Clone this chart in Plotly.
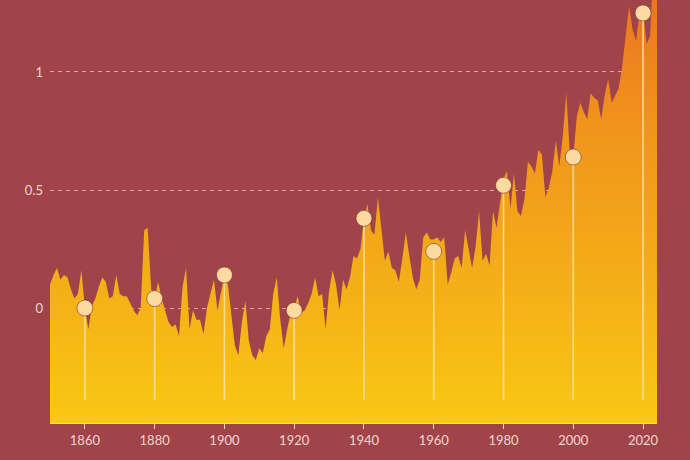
import plotly.graph_objects as go

years = list(range(1850, 2025))
anomaly = [
    0.10, 0.14, 0.17, 0.12, 0.14, 0.13, 0.08, 0.04, 0.06, 0.16,   # 1850-1859
    0.00, -0.09, 0.01, 0.04, 0.09, 0.13, 0.11, 0.04, 0.05, 0.14,  # 1860-1869
    0.06, 0.05, 0.05, 0.02, -0.01, -0.03, 0.00, 0.33, 0.34, 0.08, # 1870-1879
    0.04, 0.11, 0.04, -0.01, -0.06, -0.08, -0.07, -0.12, 0.09, 0.17,  # 1880-1889
    -0.09, -0.01, -0.05, -0.05, -0.11, 0.00, 0.06, 0.12, -0.01, 0.06, # 1890-1899
    0.14, 0.10, -0.04, -0.16, -0.20, -0.06, 0.03, -0.14, -0.20, -0.22, # 1900-1909
    -0.17, -0.19, -0.12, -0.09, 0.06, 0.13, -0.05, -0.17, -0.09, -0.02, # 1910-1919
    0.00, 0.05, -0.02, -0.01, 0.02, 0.06, 0.13, 0.05, 0.06, -0.09,  # 1920-1929
    0.07, 0.16, 0.10, -0.01, 0.12, 0.08, 0.13, 0.22, 0.21, 0.25,    # 1930-1939
    0.38, 0.44, 0.33, 0.31, 0.47, 0.33, 0.20, 0.24, 0.17, 0.16,     # 1940-1949
    0.11, 0.21, 0.32, 0.22, 0.13, 0.08, 0.12, 0.30, 0.32, 0.29,     # 1950-1959
    0.29, 0.30, 0.28, 0.30, 0.10, 0.15, 0.21, 0.22, 0.17, 0.33,     # 1960-1969
    0.25, 0.17, 0.26, 0.41, 0.20, 0.23, 0.18, 0.41, 0.34, 0.44,     # 1970-1979
    0.55, 0.58, 0.42, 0.57, 0.41, 0.39, 0.46, 0.62, 0.60, 0.57,     # 1980-1989
    0.67, 0.65, 0.47, 0.51, 0.58, 0.71, 0.60, 0.73, 0.91, 0.66,     # 1990-1999
    0.64, 0.81, 0.87, 0.83, 0.80, 0.91, 0.89, 0.88, 0.80, 0.90,     # 2000-2009
    0.97, 0.87, 0.90, 0.93, 1.02, 1.14, 1.28, 1.18, 1.13, 1.25,     # 2010-2019
    1.27, 1.12, 1.15, 1.45, 1.55,                                   # 2020-2024
]

marker_years = [1860, 1880, 1900, 1920, 1940, 1960, 1980, 2000, 2020]
marker_values = [0.00, 0.04, 0.14, -0.01, 0.38, 0.24, 0.52, 0.64, 1.25]

x_ticks = [1860, 1880, 1900, 1920, 1940, 1960, 1980, 2000, 2020]
y_ticks = [0, 0.5, 1]
y_tick_labels = ["0", "0.5", "1"]

Y_MIN, Y_MAX = -0.487, 1.305
STEM_BOTTOM = -0.39

BG = "#a04449"
TXT = "#f3d6d3"

fig = go.Figure()

# baseline for the fill
fig.add_trace(go.Scatter(
    x=years, y=[Y_MIN] * len(years), mode="lines",
    line=dict(width=0, color="rgba(0,0,0,0)"), hoverinfo="skip", showlegend=False,
))
fig.add_trace(go.Scatter(
    x=years, y=anomaly, mode="lines", fill="tonexty",
    line=dict(width=0, color="rgba(0,0,0,0)"),
    fillgradient=dict(
        type="vertical",
        colorscale=[[0, "#f9c814"], [0.35, "#f4ad18"], [0.7, "#f0941c"], [1, "#ec7621"]],
        start=Y_MIN, stop=Y_MAX,
    ),
    showlegend=False,
))

# stems
sx, sy = [], []
for yr, v in zip(marker_years, marker_values):
    sx += [yr, yr, None]
    sy += [v, STEM_BOTTOM, None]
fig.add_trace(go.Scatter(
    x=sx, y=sy, mode="lines",
    line=dict(width=1.6, color="rgba(253,226,170,0.85)"),
    hoverinfo="skip", showlegend=False,
))
fig.add_trace(go.Scatter(
    x=marker_years, y=marker_values, mode="markers",
    marker=dict(size=16, color="#fcdaa0", line=dict(width=1, color="rgba(110,40,40,0.55)")),
    showlegend=False, cliponaxis=False,
))

fig.update_layout(
    width=690, height=460,
    margin=dict(l=50, r=33, t=0, b=37),
    paper_bgcolor=BG, plot_bgcolor=BG,
    font=dict(family="Lato", size=13, color=TXT),
    xaxis=dict(
        range=[1850, 2024], tickvals=x_ticks, showgrid=False, zeroline=False,
        showline=True, linecolor="#f4d8bd", linewidth=1,
        ticks="outside", ticklen=5, tickcolor="#f4d8bd", tickwidth=1,
        tickfont=dict(family="Lato", size=13, color=TXT),
    ),
    yaxis=dict(
        range=[Y_MIN, Y_MAX], tickvals=y_ticks, ticktext=y_tick_labels,
        showgrid=True, gridcolor="rgba(240,200,200,0.75)", gridwidth=1, griddash="4px,4px",
        zeroline=False, showline=False, ticks="", ticklabelstandoff=6,
        tickfont=dict(family="Lato", size=13, color=TXT),
    ),
)

fig.write_html(
    "out.html",
    config={"displayModeBar": False},
    post_script="document.body.style.margin='0';document.body.style.background='" + BG + "';",
)
